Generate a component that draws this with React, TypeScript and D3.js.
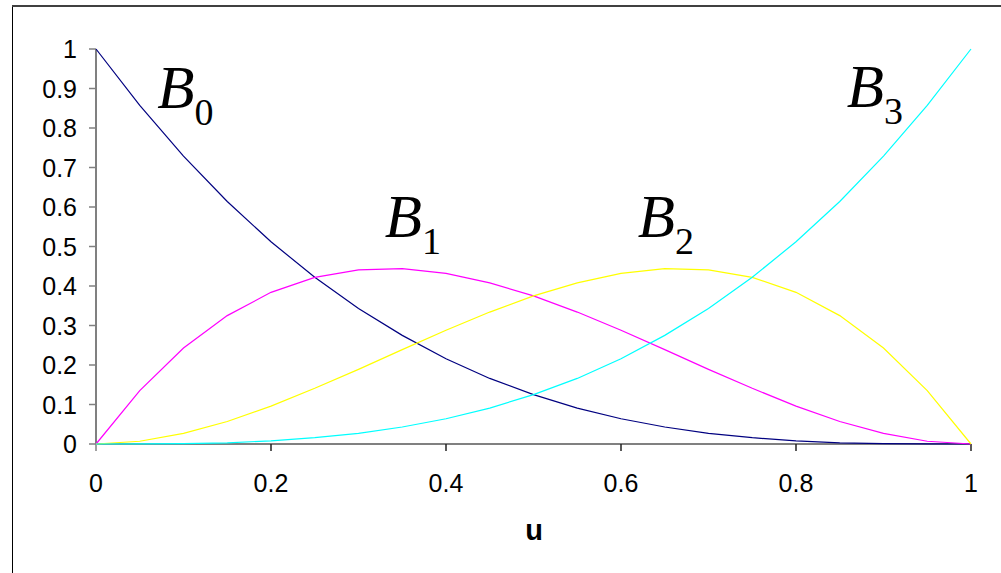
import React from "react";
import * as d3 from "d3";

const uValues = [0, 0.05, 0.1, 0.15, 0.2, 0.25, 0.3, 0.35, 0.4, 0.45, 0.5, 0.55, 0.6, 0.65, 0.7, 0.75, 0.8, 0.85, 0.9, 0.95, 1];
const b0Values = [1, 0.857, 0.729, 0.614, 0.512, 0.422, 0.343, 0.275, 0.216, 0.166, 0.125, 0.091, 0.064, 0.043, 0.027, 0.016, 0.008, 0.003, 0.001, 0.0001, 0];
const b1Values = [0, 0.135, 0.243, 0.325, 0.384, 0.422, 0.441, 0.444, 0.432, 0.408, 0.375, 0.334, 0.288, 0.239, 0.189, 0.141, 0.096, 0.057, 0.027, 0.007, 0];
const b2Values = [0, 0.007, 0.027, 0.057, 0.096, 0.141, 0.189, 0.239, 0.288, 0.334, 0.375, 0.408, 0.432, 0.444, 0.441, 0.422, 0.384, 0.325, 0.243, 0.135, 0];
const b3Values = [0, 0.0001, 0.001, 0.003, 0.008, 0.016, 0.027, 0.043, 0.064, 0.091, 0.125, 0.166, 0.216, 0.275, 0.343, 0.422, 0.512, 0.614, 0.729, 0.857, 1];

const xTicks = [0, 0.2, 0.4, 0.6, 0.8, 1];
const yTicks = [0, 0.1, 0.2, 0.3, 0.4, 0.5, 0.6, 0.7, 0.8, 0.9, 1];

const seriesNames = ["0", "1", "2", "3"];
const seriesColors = ["#000080", "#FF00FF", "#FFFF00", "#00FFFF"];
const seriesLabelAt = [
  { u: 0.07, v: 0.85 },
  { u: 0.33, v: 0.525 },
  { u: 0.619, v: 0.525 },
  { u: 0.858, v: 0.852 },
];

export default function App() {
  const W = 1001, H = 573;
  const x = d3.scaleLinear().domain([0, 1]).range([96, 971]);
  const y = d3.scaleLinear().domain([0, 1]).range([444, 49]);
  const series = [b0Values, b1Values, b2Values, b3Values];
  const line = d3
    .line<[number, number]>()
    .x((d) => x(d[0]))
    .y((d) => y(d[1]));
  const axisColor = "#808080";
  const font = "Arial, 'Liberation Sans', sans-serif";

  return (
    <svg width={W} height={H} style={{ position: "absolute", left: 0, top: 0, background: "#fff" }}>
      <rect x={0} y={0} width={W} height={H} fill="#fff" />
      <line x1={12.5} y1={5} x2={12.5} y2={H} stroke="#000" strokeWidth={1} />
      <line x1={12} y1={6} x2={W} y2={6} stroke="#404040" strokeWidth={2} />

      {/* axes */}
      <line x1={x(0)} y1={y(0)} x2={x(1)} y2={y(0)} stroke={axisColor} strokeWidth={2} />
      <line x1={x(0)} y1={y(0)} x2={x(0)} y2={y(1)} stroke={axisColor} strokeWidth={2} />
      {yTicks.map((t) => (
        <g key={"y" + t}>
          <line x1={x(0) - 7} x2={x(0)} y1={y(t)} y2={y(t)} stroke={axisColor} strokeWidth={1.5} />
          <text x={77} y={y(t) + 9} textAnchor="end" fontFamily={font} fontSize={25} fill="#000">
            {t}
          </text>
        </g>
      ))}
      {xTicks.map((t) => (
        <g key={"x" + t}>
          <line x1={x(t)} x2={x(t)} y1={y(0)} y2={y(0) + 7} stroke={t === 0 ? axisColor : "#222"} strokeWidth={1.5} />
          <text x={x(t)} y={492} textAnchor="middle" fontFamily={font} fontSize={25} fill="#000">
            {t}
          </text>
        </g>
      ))}
      <text x={534} y={540} textAnchor="middle" fontFamily={font} fontSize={29} fontWeight="bold" fill="#000">
        u
      </text>

      {/* curves */}
      {series.map((vals, i) => (
        <path
          key={i}
          d={line(uValues.map((u, j) => [u, vals[j]] as [number, number])) || ""}
          fill="none"
          stroke={seriesColors[i]}
          strokeWidth={1.2}
        />
      ))}

      {/* labels */}
      {seriesNames.map((n, i) => (
        <text
          key={"l" + n}
          x={x(seriesLabelAt[i].u)}
          y={y(seriesLabelAt[i].v)}
          fontFamily="'Liberation Serif', 'Times New Roman', serif"
          fill="#000"
        >
          <tspan fontStyle="italic" fontSize={61}>B</tspan>
          <tspan fontSize={38} dy={17}>{n}</tspan>
        </text>
      ))}
    </svg>
  );
}
